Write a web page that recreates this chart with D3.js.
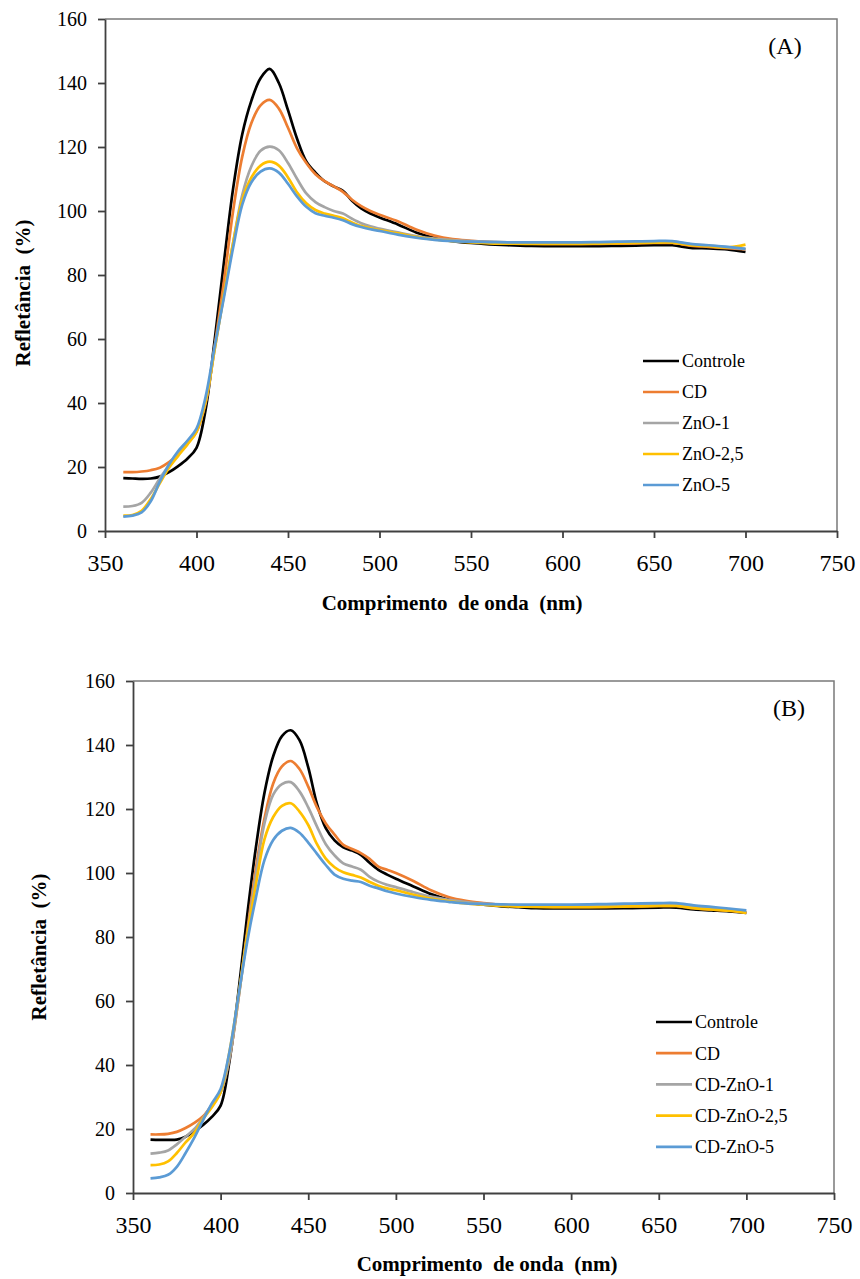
<!DOCTYPE html>
<html>
<head>
<meta charset="utf-8">
<script src="https://cdn.jsdelivr.net/npm/d3@7"></script>
<style>
  body { margin: 0; background: #fff; }
  svg { display: block; }
  text { font-family: "Liberation Serif", "Times New Roman", serif; fill: #000; }
</style>
</head>
<body>
<div id="chart"></div>
<script>
// wavelengths (nm), shared by every series
var wavelengths = [360,365,370,375,380,385,390,395,400,405,410,415,420,425,430,435,440,445,450,455,460,465,470,475,480,485,490,495,500,510,520,530,540,550,560,570,580,590,600,610,620,630,640,650,660,670,680,690,700];

// panel A
var labelsA = ["Controle", "CD", "ZnO-1", "ZnO-2,5", "ZnO-5"];
var controleA = [16.5,16.4,16.3,16.4,17,18.4,20.3,22.6,26,38,60,84,107,124,134.5,141.5,144.4,140,131.5,122.5,115.5,112,109.3,107.7,106.3,103.2,100.8,99.2,98,95.8,93.3,91.6,90.6,90,89.6,89.3,89.1,89,89,89,89,89.1,89.2,89.3,89.3,88.5,88.3,88,87.2];
var cdA = [18.4,18.4,18.6,19,19.8,21.5,24,27.5,31,40,58,78,100,117,127.5,133,134.7,132,126,119.5,115,111.5,109.3,107.7,106,103.5,101.5,100,98.8,96.8,94.2,92.3,91.2,90.7,90.3,90,89.8,89.7,89.7,89.7,89.7,89.8,89.9,90,90,89.2,88.8,88.4,88];
var zno1A = [7.6,7.8,8.8,12,16.5,20.5,24.5,28,31.5,40.5,57,74,90,105,114,118.8,120.1,119,115,110,105.5,102.8,101.2,100,99.2,97.6,96.2,95.2,94.5,93.3,92.2,91.4,90.9,90.6,90.4,90.2,90.1,90,90,90,90.1,90.2,90.3,90.4,90.4,89.6,89.2,88.7,88.1];
var zno25A = [4.8,5,6.3,10,15,19.8,23.5,27,31,40.5,57,74,90,103.5,110.5,114.2,115.4,114.2,110.5,105.8,102.4,100.3,99.2,98.5,97.7,96.4,95.3,94.6,94,93,91.9,91.1,90.6,90.2,89.9,89.8,89.7,89.7,89.7,89.7,89.8,89.9,90,90.1,90.1,89.3,89,88.6,89.5];
var zno5A = [4.5,4.8,5.8,9.3,15.5,20.8,25,28.2,32,42,58,73,88.5,102,109,112.3,113.3,112,108.5,104.5,101.3,99.3,98.5,97.9,97.1,95.9,95,94.3,93.8,92.6,91.7,91,90.6,90.4,90.3,90.2,90.2,90.2,90.2,90.2,90.3,90.4,90.5,90.6,90.6,89.7,89.3,88.8,88.2];

// panel B
var labelsB = ["Controle", "CD", "CD-ZnO-1", "CD-ZnO-2,5", "CD-ZnO-5"];
var controleB = [16.7,16.6,16.6,16.7,17.6,19.3,21.3,23.8,27.3,41,62,86,107.5,125,136.5,142.8,144.6,141.5,133,121.5,114,110.2,108,107,105.7,103.2,101,99.5,98.2,95.8,93.4,91.7,90.7,90.1,89.6,89.3,89,88.9,88.9,88.9,88.9,89,89.1,89.2,89.2,88.6,88.3,88,87.5];
var cdB = [18.3,18.3,18.5,19.1,20.3,21.9,24,27.5,31.5,42,60,81,101,117,128,133.3,135,132.5,127,120.5,115.5,112,108.8,107.5,106.2,104.4,102,101,100,97.5,94.6,92.5,91.3,90.6,90.1,89.7,89.5,89.4,89.4,89.4,89.4,89.5,89.6,89.7,89.7,89,88.6,88.2,87.6];
var cdZno1B = [12.3,12.6,13.3,15.2,17.6,20,23.5,27.5,31.5,42,60,80,99,115.5,124.5,127.8,128.4,125.5,120.5,114.5,109,105.5,103,102,101,98.8,97.3,96.3,95.6,94,92.6,91.6,90.9,90.4,90.1,89.9,89.8,89.7,89.7,89.7,89.8,89.9,90,90.1,90.1,89.4,88.9,88.5,87.8];
var cdZno25B = [8.7,8.9,9.9,12.5,15.8,18.8,23.2,26.8,31.5,44,61,80,96,110.5,117.5,121,121.8,119.2,115,109,104.5,101.8,100.2,99.4,98.6,97.2,96,95.2,94.6,93.2,92,91.2,90.5,90.1,89.7,89.5,89.4,89.3,89.3,89.3,89.4,89.5,89.6,89.7,89.7,89,88.6,88.2,87.5];
var cdZno5B = [4.6,4.9,5.7,8.2,12.5,17.3,22.8,28,32.5,44,61,78,92,104,110.3,113.2,114.1,112.6,109.5,106,102.5,99.5,98.2,97.6,97.2,96,95.2,94.3,93.6,92.5,91.6,91,90.5,90.3,90.2,90.1,90.1,90.1,90.1,90.2,90.3,90.4,90.5,90.6,90.6,89.9,89.4,88.9,88.3];

// axis ticks
var xTicks = [350,400,450,500,550,600,650,700,750];
var yTicks = [0,20,40,60,80,100,120,140,160];

// Excel default palette
var colors = ["#000000", "#ed7d31", "#a5a5a5", "#ffc000", "#5b9bd5"];

var width = 860;
var height = 1279;

var svg = d3.select("#chart")
            .append("svg")
            .attr("width", width)
            .attr("height", height);

function drawPanel(p) {
  var xScale = d3.scaleLinear().domain([350, 750]).range([p.left, p.right]);
  var yScale = d3.scaleLinear().domain([0, 160]).range([p.bottom, p.top]);

  var g = svg.append("g");

  // top and right frame
  g.append("path")
   .attr("d", "M" + p.left + "," + p.top + "H" + p.right + "V" + p.bottom)
   .attr("fill", "none")
   .attr("stroke", "#7a7a7a")
   .attr("stroke-width", 1.5);

  // curves
  var line = d3.line()
               .x(function(d) { return xScale(d[0]); })
               .y(function(d) { return yScale(d[1]); })
               .curve(d3.curveCatmullRom.alpha(0.5));
  p.series.forEach(function(s, i) {
    g.append("path")
     .datum(wavelengths.map(function(w, j) { return [w, s[j]]; }))
     .attr("fill", "none")
     .attr("stroke", colors[i])
     .attr("stroke-width", 2.7)
     .attr("stroke-linejoin", "round")
     .attr("d", line);
  });

  // axes
  var xAxis = g.append("g")
               .attr("transform", "translate(0," + p.bottom + ")")
               .call(d3.axisBottom(xScale).tickValues(xTicks).tickSize(7).tickSizeOuter(0));
  xAxis.selectAll("text")
       .attr("dy", null)
       .attr("y", 40)
       .style("font-size", "24px");
  var yAxis = g.append("g")
               .attr("transform", "translate(" + p.left + ",0)")
               .call(d3.axisLeft(yScale).tickValues(yTicks).tickSize(7).tickSizeOuter(0).tickPadding(11));
  yAxis.selectAll("text")
       .style("font-size", "20px");
  g.selectAll(".domain, .tick line")
   .attr("stroke", "#404040")
   .attr("stroke-width", 1.8);
  g.selectAll(".tick text").attr("fill", "#000").style("font-family", "'Liberation Serif', serif");

  // axis titles
  g.append("text")
   .text("Comprimento  de onda  (nm)")
   .attr("x", p.xTitleX)
   .attr("y", p.xTitleY)
   .attr("text-anchor", "middle")
   .style("font-size", "21px")
   .style("font-weight", "bold")
   .style("white-space", "pre");
  g.append("text")
   .text("Refletância  (%)")
   .attr("transform", "translate(" + p.yTitleX + "," + p.yTitleY + ") rotate(-90)")
   .attr("text-anchor", "middle")
   .style("font-size", "21px")
   .style("font-weight", "bold")
   .style("white-space", "pre");

  // panel tag
  g.append("text")
   .text(p.tag)
   .attr("x", p.tagX)
   .attr("y", p.tagY)
   .attr("text-anchor", "middle")
   .style("font-size", "24px");

  // legend
  p.labels.forEach(function(lab, i) {
    var ly = p.legY + i * p.legStep;
    g.append("line")
     .attr("x1", p.legX)
     .attr("x2", p.legX + 36)
     .attr("y1", ly)
     .attr("y2", ly)
     .attr("stroke", colors[i])
     .attr("stroke-width", 2.7);
    g.append("text")
     .text(lab)
     .attr("x", p.legX + 39)
     .attr("y", ly)
     .attr("dy", "0.35em")
     .style("font-size", "18px");
  });
}

drawPanel({
  left: 105, right: 837, top: 19, bottom: 531,
  series: [controleA, cdA, zno1A, zno25A, zno5A],
  labels: labelsA,
  tag: "(A)", tagX: 785, tagY: 54,
  xTitleX: 452, xTitleY: 610,
  yTitleX: 30, yTitleY: 293,
  legX: 643, legY: 361, legStep: 31
});

drawPanel({
  left: 133, right: 834, top: 681, bottom: 1193,
  series: [controleB, cdB, cdZno1B, cdZno25B, cdZno5B],
  labels: labelsB,
  tag: "(B)", tagX: 789, tagY: 716,
  xTitleX: 487, xTitleY: 1271,
  yTitleX: 46, yTitleY: 947,
  legX: 656, legY: 1022, legStep: 31.2
});
</script>
</body>
</html>
